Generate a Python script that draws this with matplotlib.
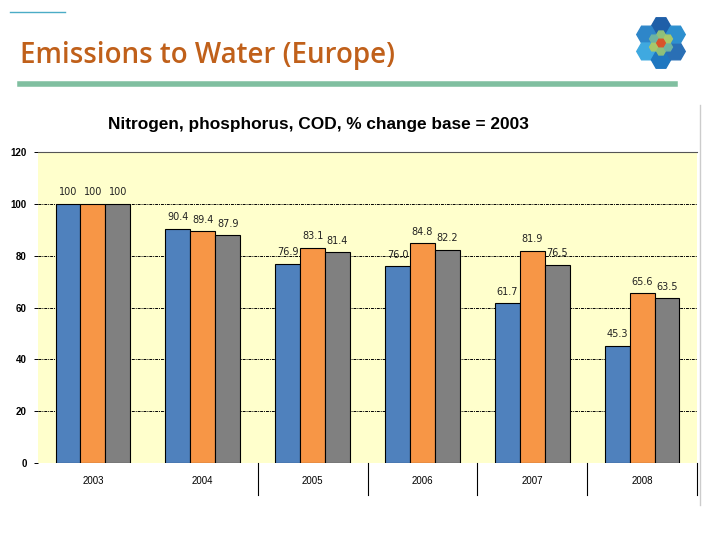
import numpy as np
import matplotlib
matplotlib.use('Agg')
import matplotlib.pyplot as plt
from matplotlib.patches import RegularPolygon

years = ['2003', '2004', '2005', '2006', '2007', '2008']
nitrogen = [100, 90.4, 76.9, 76.0, 61.7, 45.3]
phosphorus = [100, 89.4, 83.1, 84.8, 81.9, 65.6]
cod = [100, 87.9, 81.4, 82.2, 76.5, 63.5]
yticks = [0, 20, 40, 60, 80, 100, 120]

colors = ['#4F81BD', '#F79646', '#808080']

fig = plt.figure(figsize=(7.2, 5.4), dpi=100)
fig.patch.set_facecolor('white')

# slide header
fig.text(20 / 720, 1 - 55 / 540, 'Emissions to Water (Europe)', color='#C0601A',
         fontsize=20, fontweight='semibold', family='Open Sans', va='center', ha='left')
fig.add_artist(plt.Line2D([20 / 720, 675 / 720], [1 - 84 / 540] * 2,
                          color='#80BFA0', lw=4, transform=fig.transFigure))
fig.add_artist(plt.Line2D([10 / 720, 65 / 720], [1 - 12 / 540] * 2,
                          color='#4BACC6', lw=1, transform=fig.transFigure))
fig.add_artist(plt.Line2D([700 / 720, 700 / 720], [1 - 105 / 540, 1 - 505 / 540],
                          color='#cccccc', lw=1, transform=fig.transFigure))

# logo
lax = fig.add_axes([634 / 720, 1 - 70 / 540, 54 / 720, 54 / 540])
lax.set_aspect('equal')
lax.axis('off')
outer = ['#1F5FA8', '#2E86C9', '#3FA9E0', '#1F77C0', '#2A6FB5', '#2D8FCF']
for i in range(6):
    a = np.pi / 2 + i * np.pi / 3
    lax.add_patch(RegularPolygon((1.75 * np.cos(a), 1.75 * np.sin(a)), 6, radius=1.0,
                                 orientation=np.pi / 6, color=outer[i]))
for i in range(6):
    a = np.pi / 2 + i * np.pi / 3
    lax.add_patch(RegularPolygon((0.85 * np.cos(a), 0.85 * np.sin(a)), 6, radius=0.45,
                                 orientation=np.pi / 6,
                                 color=['#8FC07A', '#6FB4A0', '#A8C86A'][i % 3]))
lax.add_patch(RegularPolygon((0, 0), 6, radius=0.45, orientation=np.pi / 6, color='#D9532A'))
lax.set_xlim(-2.8, 2.8)
lax.set_ylim(-2.8, 2.8)

# chart
ax = fig.add_axes([38 / 720, 77 / 540, 659 / 720, 311 / 540])
ax.set_facecolor('#FFFFCC')
x = np.arange(len(years))
w = 0.227
for k, (vals, c) in enumerate(zip([nitrogen, phosphorus, cod], colors)):
    pos = x + (k - 1) * w
    ax.bar(pos, vals, w, color=c, edgecolor='black', lw=0.8, zorder=3)
    for p, v in zip(pos, vals):
        lab = '100' if v == 100 else f'{v:.1f}'
        ax.text(p, v + 2.5, lab, ha='center', va='bottom', fontsize=7, color='#222222', zorder=4)

ax.set_xlim(-0.5, 5.5)
ax.set_ylim(0, 120)
ax.set_yticks(yticks)
ax.set_yticklabels([str(t) for t in yticks], fontsize=7, fontweight='bold', family='Liberation Sans')
ax.yaxis.grid(True, color='black', lw=0.7, linestyle=(0, (3, 1, 1, 1)), zorder=1)
ax.tick_params(axis='y', length=3, width=0.7, pad=5, color='black')
ax.set_xticks(x)
ax.set_xticklabels(years, fontsize=7, family='Liberation Sans')
ax.tick_params(axis='x', length=0, pad=9)
for s in ['left', 'right', 'bottom']:
    ax.spines[s].set_visible(False)
ax.spines['top'].set_color('#555555')
ax.spines['top'].set_linewidth(0.8)

for b in [1.5, 2.5, 3.5, 4.5, 5.5]:
    ax.plot([b, b], [0, -12.5], color='black', lw=0.8, clip_on=False)

fig.text(318 / 720, 1 - 125 / 540, 'Nitrogen, phosphorus, COD, % change base = 2003',
         ha='center', va='center', fontsize=12.4, fontweight='bold', family='Liberation Sans')

fig.savefig('out.png', dpi=100)
